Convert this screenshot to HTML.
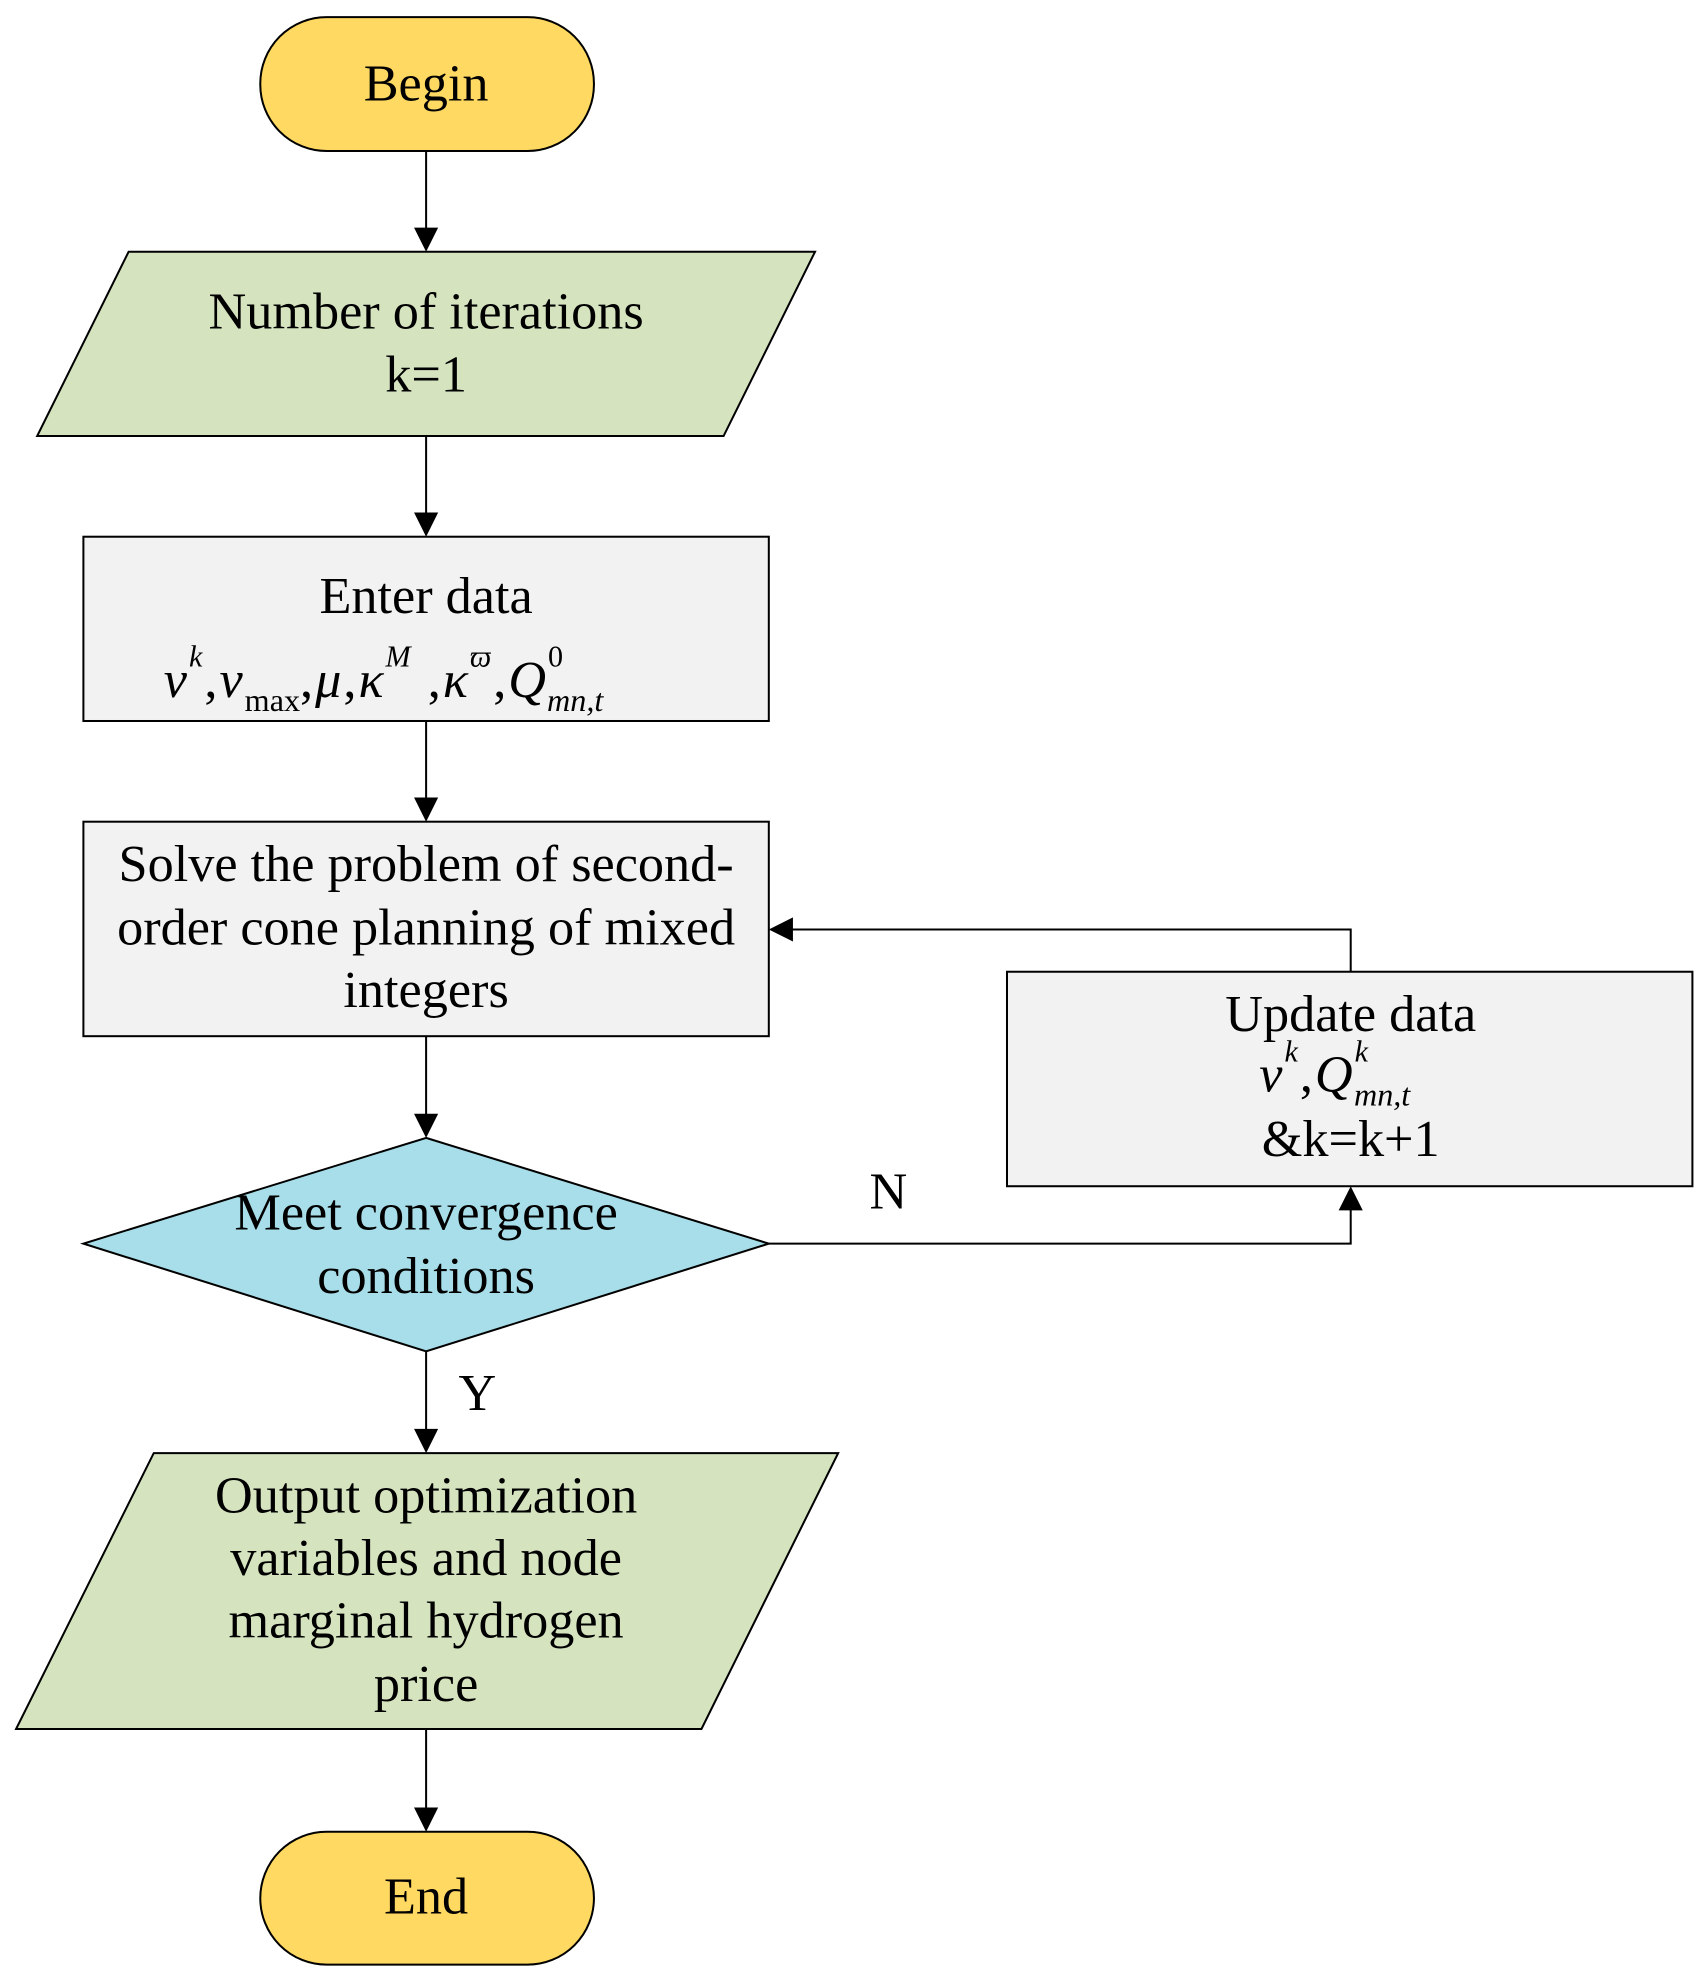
<!DOCTYPE html>
<html><head><meta charset="utf-8"><style>
html,body{margin:0;padding:0;background:#fff}
svg{display:block}
text{font-family:"Liberation Serif",serif;font-size:52px;fill:#000}
</style></head><body>
<svg width="1703" height="1976" viewBox="0 0 1703 1976" xmlns="http://www.w3.org/2000/svg">
<g transform="translate(3,2) scale(1.005,1.007)">
<g stroke="#000" stroke-width="2">
<rect x="256" y="15" width="332" height="133" rx="66" ry="66" fill="#FFD961"/>
<polygon points="125,248 808,248 717,431 34,431" fill="#D5E3BF"/>
<rect x="80" y="531" width="682" height="183" fill="#F2F2F2"/>
<rect x="80" y="814" width="682" height="213" fill="#F2F2F2"/>
<polygon points="421,1128 762,1233 421,1340 80,1233" fill="#A8DEE9"/>
<rect x="999" y="963" width="682" height="213" fill="#F2F2F2"/>
<polygon points="150,1441 831,1441 695,1715 13,1715" fill="#D5E3BF"/>
<rect x="256" y="1817" width="332" height="132" rx="66" ry="66" fill="#FFD961"/>
<g fill="none">
<line x1="421" y1="148" x2="421" y2="226"/>
<line x1="421" y1="431" x2="421" y2="509"/>
<line x1="421" y1="714" x2="421" y2="792"/>
<line x1="421" y1="1027" x2="421" y2="1106"/>
<line x1="421" y1="1340" x2="421" y2="1419"/>
<line x1="421" y1="1715" x2="421" y2="1795"/>
<polyline points="1341,963 1341,921 784,921"/>
<polyline points="762,1233 1341,1233 1341,1198"/>
</g>
</g>
<g fill="#000">
<polygon points="409,224 433,224 421,248"/>
<polygon points="409,507 433,507 421,531"/>
<polygon points="409,790 433,790 421,814"/>
<polygon points="409,1104 433,1104 421,1128"/>
<polygon points="409,1417 433,1417 421,1441"/>
<polygon points="409,1793 433,1793 421,1817"/>
<polygon points="786,909 786,933 762,921"/>
<polygon points="1329,1200 1353,1200 1341,1176"/>
</g>
<g text-anchor="middle">
<text x="421" y="98">Begin</text>
<text x="421" y="324">Number of iterations</text>
<text x="421" y="387">k=1</text>
<text x="421" y="607">Enter data</text>
<text x="421" y="873">Solve the problem of second-</text>
<text x="421" y="936">order cone planning of mixed</text>
<text x="421" y="998">integers</text>
<text x="421" y="1219">Meet convergence</text>
<text x="421" y="1282">conditions</text>
<text x="1341" y="1022">Update data</text>
<text x="1341" y="1146">&amp;k=k+1</text>
<text x="421" y="1500">Output optimization</text>
<text x="421" y="1562">variables and node</text>
<text x="421" y="1624">marginal hydrogen</text>
<text x="421" y="1687">price</text>
<text x="421" y="1898">End</text>
<text x="881" y="1198">N</text>
<text x="472" y="1398">Y</text>
</g>
<text x="160" y="690" font-style="italic" font-size="64" letter-spacing="2">ν<tspan font-size="30" dy="-30">k</tspan><tspan dy="30" font-style="normal">,</tspan>ν<tspan font-size="32" dy="14" font-style="normal" letter-spacing="0">max</tspan><tspan dy="-14" font-style="normal">,</tspan>μ<tspan font-style="normal">,</tspan>κ<tspan font-size="30" dy="-30">M</tspan><tspan dy="30" font-style="normal"> ,</tspan>κ<tspan font-size="30" dy="-30">ϖ</tspan><tspan dy="30" font-style="normal">,</tspan>Q<tspan font-size="30" dy="-30" font-style="normal">0</tspan><tspan font-size="32" dx="-18" dy="44" letter-spacing="0">mn,t</tspan></text>
<text x="1250" y="1082" font-style="italic" font-size="64" letter-spacing="2">ν<tspan font-size="30" dy="-30">k</tspan><tspan dy="30" font-style="normal">,</tspan>Q<tspan font-size="30" dy="-30">k</tspan><tspan font-size="32" dx="-16" dy="44" letter-spacing="0">mn,t</tspan></text>
</g>
</svg>
</body></html>
